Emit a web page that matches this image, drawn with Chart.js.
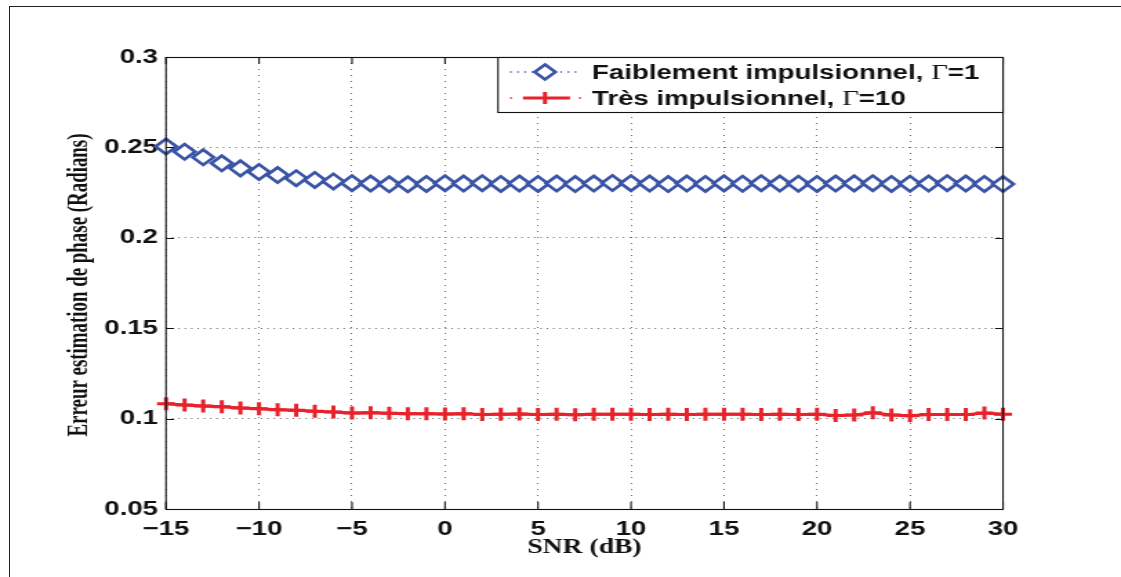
<!DOCTYPE html>
<html>
<head>
<meta charset="utf-8">
<script src="https://cdn.jsdelivr.net/npm/chart.js@4.4.1/dist/chart.umd.min.js"></script>
<style>
  html, body { margin: 0; padding: 0; background: #fff; }
  #wrap { position: relative; width: 1121px; height: 577px; overflow: hidden; }
  #frame { position: absolute; left: 9px; top: 6px; right: -2px; bottom: -2px;
           border-left: 1.5px solid #222; border-top: 1.5px solid #222; pointer-events: none; }
  /* the figure is drawn narrow and stretched wide, like the printed plot */
  #phaseChart { position: absolute; left: 0; top: 0; width: 1121px; height: 577px; }
</style>
</head>
<body>
<div id="wrap">
  <canvas id="phaseChart" width="812" height="577" style="width:1121px;height:577px"></canvas>
  <div id="frame"></div>
</div>
<script>
// SNR axis (dB)
const snrDb = [-15, -14, -13, -12, -11, -10, -9, -8, -7, -6, -5, -4, -3, -2, -1, 0,
  1, 2, 3, 4, 5, 6, 7, 8, 9, 10, 11, 12, 13, 14, 15, 16, 17, 18, 19, 20,
  21, 22, 23, 24, 25, 26, 27, 28, 29, 30];

// phase estimation error, Gamma = 1
const errWeak = [0.2505, 0.2476, 0.2445, 0.2412, 0.2384, 0.2364, 0.2347, 0.2330, 0.2320, 0.2312,
  0.2302, 0.2300, 0.2296, 0.2296, 0.2298, 0.2302, 0.2300, 0.2302, 0.2298, 0.2300,
  0.2298, 0.2300, 0.2297, 0.2300, 0.2303, 0.2302, 0.2300, 0.2297, 0.2300, 0.2298,
  0.2301, 0.2299, 0.2302, 0.2300, 0.2299, 0.2298, 0.2300, 0.2301, 0.2302, 0.2298,
  0.2299, 0.2300, 0.2302, 0.2300, 0.2298, 0.2297];

// phase estimation error, Gamma = 10
const errStrong = [0.1082, 0.1075, 0.1070, 0.1066, 0.1058, 0.1054, 0.1049, 0.1046, 0.1040, 0.1037,
  0.1031, 0.1032, 0.1030, 0.1027, 0.1027, 0.1026, 0.1027, 0.1023, 0.1024, 0.1025,
  0.1023, 0.1024, 0.1021, 0.1024, 0.1024, 0.1024, 0.1023, 0.1024, 0.1023, 0.1024,
  0.1024, 0.1024, 0.1023, 0.1024, 0.1023, 0.1024, 0.1017, 0.1020, 0.1032, 0.1020,
  0.1016, 0.1022, 0.1023, 0.1022, 0.1031, 0.1024];

const xTicks = [-15, -10, -5, 0, 5, 10, 15, 20, 25, 30];
const yTicks = [0.05, 0.1, 0.15, 0.2, 0.25, 0.3];

const seriesLabels = ['Faiblement impulsionnel, ', 'Très impulsionnel, '];
const gammaLabels = ['=1', '=10'];
const xTitle = 'SNR (dB)';
const yTitle = 'Erreur estimation de phase (Radians)';

const BLUE = '#3a54a5';
const RED = '#e8222b';
const SANS = '"Liberation Sans", Arial, sans-serif';
const SERIF = '"Liberation Serif", "Times New Roman", serif';

// horizontal stretch between canvas units and screen pixels
const K = 1121 / 812;
const px = v => v / K;

function toPoints(ys) {
  return snrDb.map((x, i) => ({ x: x, y: ys[i] }));
}

// box, inward ticks, axis titles and the legend, matlab style
const matlabFrame = {
  id: 'matlabFrame',
  afterDatasetsDraw(chart) {
    const { ctx, chartArea: a, scales } = chart;
    const sx = scales.x, sy = scales.y;
    ctx.save();
    ctx.strokeStyle = '#111';
    ctx.lineWidth = 1.1;
    ctx.strokeRect(a.left, a.top + 0.5, a.right - a.left, a.bottom - a.top);

    const tlV = 7, tlH = px(8);
    ctx.beginPath();
    xTicks.forEach(v => {
      const x = sx.getPixelForValue(v);
      ctx.moveTo(x, a.bottom); ctx.lineTo(x, a.bottom - tlV);
      ctx.moveTo(x, a.top); ctx.lineTo(x, a.top + tlV);
    });
    yTicks.forEach(v => {
      const y = Math.round(sy.getPixelForValue(v)) + 0.5;
      ctx.moveTo(a.left, y); ctx.lineTo(a.left + tlH, y);
      ctx.moveTo(a.right, y); ctx.lineTo(a.right - tlH, y);
    });
    ctx.stroke();

    // axis titles
    ctx.fillStyle = '#111';
    ctx.textAlign = 'center';
    ctx.textBaseline = 'middle';
    ctx.font = 'bold 20px ' + SERIF;
    const yw = ctx.measureText(yTitle).width;
    ctx.save();
    ctx.translate(px(80), (a.top + a.bottom) / 2 + 2);
    ctx.rotate(-Math.PI / 2);
    ctx.scale(303 / yw, 1);
    ctx.fillText(yTitle, 0, 0);
    ctx.restore();

    ctx.font = 'bold 20px ' + SERIF;
    ctx.fillText(xTitle, (a.left + a.right) / 2, 548);

    // legend
    const lx = px(498), ly = a.top + 0.5, lw = a.right - px(498), lh = 55;
    ctx.fillStyle = '#fff';
    ctx.fillRect(lx, ly, lw, lh);
    ctx.strokeStyle = '#111';
    ctx.lineWidth = 1.1;
    ctx.strokeRect(lx, ly, lw, lh);

    const rows = [a.top + 15, a.top + 41];
    const mx = px(545);
    // blue sample: dotted line with a diamond
    ctx.strokeStyle = BLUE;
    ctx.lineWidth = 1.5;
    ctx.setLineDash([1.2, 4]);
    ctx.beginPath();
    ctx.moveTo(px(510), rows[0]); ctx.lineTo(px(581), rows[0]);
    ctx.stroke();
    ctx.setLineDash([]);
    ctx.lineWidth = 2.6;
    ctx.fillStyle = '#fff';
    ctx.beginPath();
    ctx.moveTo(mx, rows[0] - 7.5); ctx.lineTo(mx + 7.5, rows[0]);
    ctx.lineTo(mx, rows[0] + 7.5); ctx.lineTo(mx - 7.5, rows[0]);
    ctx.closePath();
    ctx.fill(); ctx.stroke();

    // red sample: solid line with a plus
    ctx.strokeStyle = RED;
    ctx.lineWidth = 3;
    ctx.beginPath();
    ctx.moveTo(px(523), rows[1]); ctx.lineTo(px(570), rows[1]);
    ctx.moveTo(mx, rows[1] - 6); ctx.lineTo(mx, rows[1] + 6);
    ctx.stroke();
    ctx.lineWidth = 1.5;
    ctx.beginPath();
    ctx.moveTo(px(510), rows[1]); ctx.lineTo(px(512), rows[1]);
    ctx.moveTo(px(579), rows[1]); ctx.lineTo(px(581), rows[1]);
    ctx.stroke();

    ctx.fillStyle = '#111';
    ctx.textAlign = 'left';
    rows.forEach((ry, i) => {
      let tx = px(592);
      ctx.font = 'bold 20px ' + SANS;
      ctx.fillText(seriesLabels[i], tx, ry + 1);
      tx += ctx.measureText(seriesLabels[i]).width;
      ctx.font = '21px ' + SERIF;
      ctx.fillText('\u0393', tx, ry + 1);
      tx += ctx.measureText('\u0393').width;
      ctx.font = 'bold 20px ' + SANS;
      ctx.fillText(gammaLabels[i], tx, ry + 1);
    });
    ctx.restore();
  }
};

new Chart(document.getElementById('phaseChart'), {
  type: 'line',
  data: {
    datasets: [
      {
        label: seriesLabels[0] + '\u0393' + gammaLabels[0],
        data: toPoints(errWeak),
        clip: false,
        borderColor: BLUE,
        borderWidth: 1.5,
        borderDash: [1.2, 3],
        pointStyle: 'rectRot',
        pointRadius: 7.6,
        pointBorderWidth: 2.7,
        pointBackgroundColor: '#fff',
        pointBorderColor: BLUE,
        fill: false,
        tension: 0
      },
      {
        label: seriesLabels[1] + '\u0393' + gammaLabels[1],
        data: toPoints(errStrong),
        clip: false,
        borderColor: RED,
        borderWidth: 3,
        pointStyle: 'cross',
        pointRadius: 6.5,
        pointBorderWidth: 3,
        pointBorderColor: RED,
        fill: false,
        tension: 0
      }
    ]
  },
  options: {
    responsive: false,
    animation: false,
    events: [],
    layout: { padding: { left: 0, top: 57, right: 812 - px(1003), bottom: 0 } },
    plugins: { legend: { display: false }, tooltip: { enabled: false } },
    scales: {
      x: {
        type: 'linear',
        min: -15, max: 30,
        afterBuildTicks: s => { s.ticks = xTicks.map(v => ({ value: v })); },
        afterFit: s => { s.height = 577 - 509; },
        grid: { color: '#666', lineWidth: 1, drawTicks: false },
        border: { display: false, dash: [1, 5] },
        ticks: {
          padding: 8,
          color: '#111',
          font: { family: SANS, size: 20, weight: 'bold' },
          maxRotation: 0,
          callback: v => String(v).replace('-', '\u2212')
        }
      },
      y: {
        min: 0.05, max: 0.3,
        afterBuildTicks: s => { s.ticks = yTicks.map(v => ({ value: v })); },
        afterFit: s => { s.width = px(166); },
        grid: { color: '#666', lineWidth: 1, drawTicks: false },
        border: { display: false, dash: [1, 3.6] },
        ticks: {
          padding: px(8),
          color: '#111',
          font: { family: SANS, size: 20, weight: 'bold' },
          callback: v => String(+v.toFixed(2))
        }
      }
    }
  },
  plugins: [matlabFrame]
});
</script>
</body>
</html>
